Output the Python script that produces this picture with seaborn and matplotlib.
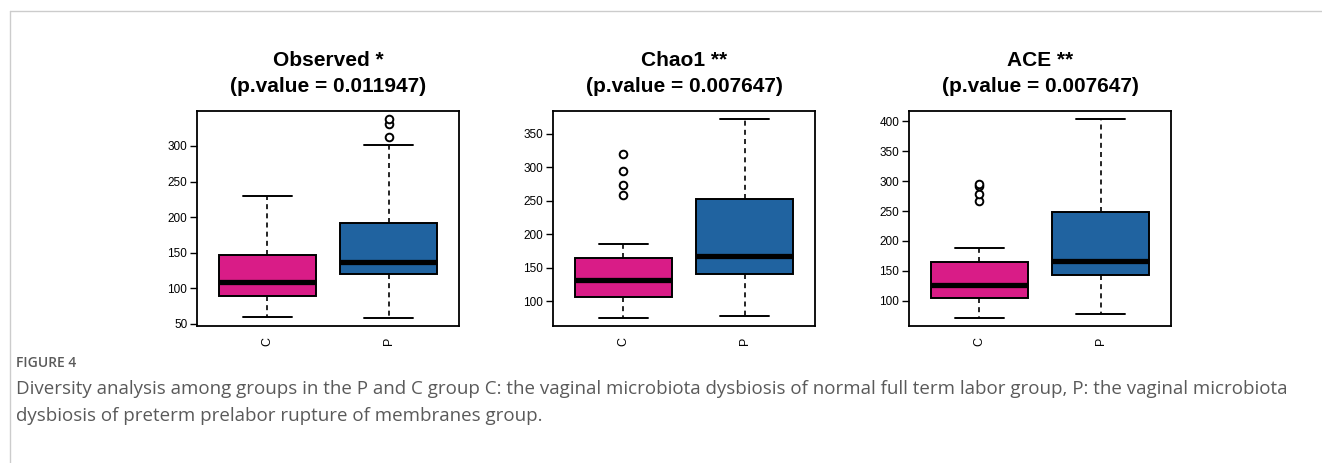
import numpy as np
import pandas as pd
import matplotlib
matplotlib.use("Agg")
import matplotlib.pyplot as plt
from matplotlib.lines import Line2D
from matplotlib.ticker import MultipleLocator
import seaborn as sns

# Grupos y colores
groups = ["C", "P"]
group_colors = ["#D91C87", "#2063A0"]

metric_names = ["Observed", "Chao1", "ACE"]
metric_titles = [
    "Observed *\n(p.value = 0.011947)",
    "Chao1 **\n(p.value = 0.007647)",
    "ACE **\n(p.value = 0.007647)",
]

# Resumen de cinco numeros:
# bigote inferior, Q1, mediana, Q3, bigote superior
observed_c = [60, 89, 108, 147, 230]
observed_p = [58, 120, 137, 192, 301]
chao1_c = [75, 106, 132, 164, 186]
chao1_p = [78, 141, 167, 252, 372]
ace_c = [71, 104, 127, 164, 188]
ace_p = [78, 143, 167, 249, 404]

# Valores atipicos
observed_out_c = []
observed_out_p = [312, 331, 338]
chao1_out_c = [258, 274, 294, 320]
chao1_out_p = []
ace_out_c = [266, 279, 292, 296]
ace_out_p = []

caption_label = "FIGURE 4"
caption_line1 = ("Diversity analysis among groups in the P and C group C: the vaginal microbiota dysbiosis "
                 "of normal full term labor group, P: the vaginal microbiota")
caption_line2 = "dysbiosis of preterm prelabor rupture of membranes group."

summaries = {"Observed": (observed_c, observed_p),
             "Chao1": (chao1_c, chao1_p),
             "ACE": (ace_c, ace_p)}
outliers = {"Observed": (observed_out_c, observed_out_p),
            "Chao1": (chao1_out_c, chao1_out_p),
            "ACE": (ace_out_c, ace_out_p)}

box_rows, out_rows = [], []
for m in metric_names:
    for g, vals in zip(groups, summaries[m]):
        box_rows += [(m, g, v) for v in vals]
    for g, vals in zip(groups, outliers[m]):
        out_rows += [(m, g, v) for v in vals]
box_df = pd.DataFrame(box_rows, columns=["metric", "group", "value"])
out_df = pd.DataFrame(out_rows, columns=["metric", "group", "value"])

sns.set_style("white")
plt.rcParams["font.family"] = ["Liberation Sans", "DejaVu Sans"]

fig = plt.figure(figsize=(13.22, 4.63), dpi=100)
W, H = 1322, 463
lefts = [197, 553, 909]
ax_w, ax_top, ax_bot = 262, 111, 326

palette = dict(zip(groups, group_colors))

for m, title, left in zip(metric_names, metric_titles, lefts):
    ax = fig.add_axes([left / W, 1 - ax_bot / H, ax_w / W, (ax_bot - ax_top) / H])
    d = box_df[box_df.metric == m]
    o = out_df[out_df.metric == m]
    sns.boxplot(data=d, x="group", y="value", hue="group", order=groups, hue_order=groups,
                palette=palette, saturation=1, width=0.8, whis=(0, 100), showfliers=False,
                linecolor="black", linewidth=1.4, legend=False, ax=ax,
                medianprops={"color": "black", "linewidth": 3.8, "solid_capstyle": "butt"},
                whiskerprops={"linestyle": (0, (3, 2.5)), "linewidth": 1.2},
                capprops={"linewidth": 1.4})
    if len(o):
        sns.stripplot(data=o, x="group", y="value", order=groups, jitter=False, marker="o",
                      size=5.5, color="white", edgecolor="black", linewidth=1.4, ax=ax, zorder=5)

    allv = pd.concat([d.value, o.value])
    lo, hi = allv.min(), allv.max()
    pad = 0.04 * (hi - lo)
    ax.set_ylim(lo - pad, hi + pad)
    ax.set_xlim(-0.58, 1.58)
    ax.yaxis.set_major_locator(MultipleLocator(50))

    for s in ax.spines.values():
        s.set_visible(True)
        s.set_color("black")
        s.set_linewidth(1.3)
    ax.tick_params(axis="y", left=True, length=5, width=1, labelsize=8.5, pad=2, colors="black")
    ax.tick_params(axis="x", length=0, labelsize=9, pad=8, labelrotation=90, colors="black")
    ax.set_xlabel("")
    ax.set_ylabel("")
    ax.set_title(title, fontsize=15, fontweight="bold", linespacing=1.45, pad=14, color="black")

# Bordes grises del marco
fig.add_artist(Line2D([9.5 / W, 1], [1 - 10.5 / H, 1 - 10.5 / H], transform=fig.transFigure,
                      color="#cccccc", linewidth=1))
fig.add_artist(Line2D([9.5 / W, 9.5 / W], [0, 1 - 10.5 / H], transform=fig.transFigure,
                      color="#cccccc", linewidth=1))

# Leyenda de la figura
fig.text(16 / W, 1 - 363 / H, caption_label, family=["Open Sans", "DejaVu Sans"], fontsize=10,
         fontweight="semibold", color="#5a5a5a", va="center")
fig.text(16 / W, 1 - 389 / H, caption_line1, family=["Open Sans", "DejaVu Sans"], fontsize=13.5,
         color="#5a5a5a", va="center")
fig.text(16 / W, 1 - 416 / H, caption_line2, family=["Open Sans", "DejaVu Sans"], fontsize=13.5,
         color="#5a5a5a", va="center")

fig.savefig("out.png", dpi=100)
